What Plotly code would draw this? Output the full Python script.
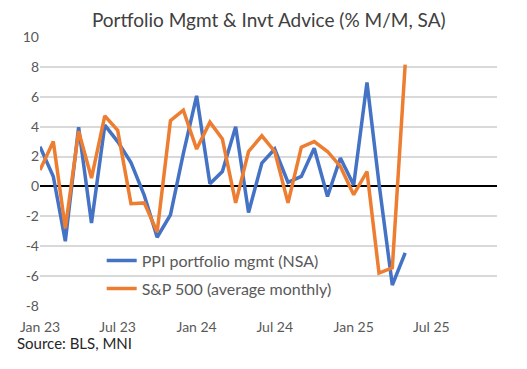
import pandas as pd
import plotly.graph_objects as go

months = pd.date_range("2023-01-01", periods=29, freq="MS")
ppi_mgmt = [2.65, 0.67, -3.67, 3.97, -2.45, 4.1, 3.0, 1.6, -0.6, -3.4, -1.9, 2.2, 6.06,
            0.18, 1.0, 4.0, -1.74, 1.56, 2.5, 0.27, 0.67, 2.56, -0.67, 1.9, 0.1, 6.95,
            0.2, -6.6, -4.45]
sp500 = [1.1, 3.0, -2.8, 3.7, 0.56, 4.72, 3.75, -1.15, -1.1, -3.05, 4.4, 5.1, 2.5,
         4.3, 3.17, -1.1, 2.34, 3.39, 2.34, -1.1, 2.63, 3.0, 2.34, 1.34, -0.55, 1.0,
         -5.8, -5.45, 8.15]
y_ticks = [-8, -6, -4, -2, 0, 2, 4, 6, 8, 10]
y_labels = ["-8", "-6", "-4", "-2", "0", "2", "4", "6", "8", "10"]
x_ticks = ["2023-01-01", "2023-07-01", "2024-01-01", "2024-07-01", "2025-01-01", "2025-07-01"]
x_labels = ["Jan 23", "Jul 23", "Jan 24", "Jul 24", "Jan 25", "Jul 25"]

FONT = "Lato"
GREY = "#595959"

fig = go.Figure()
fig.add_trace(go.Scatter(x=months, y=ppi_mgmt, mode="lines", name="PPI portfolio mgmt (NSA)",
                         line=dict(color="#4472C4", width=3.5), legend="legend"))
fig.add_trace(go.Scatter(x=months, y=sp500, mode="lines", name="S&P 500 (average monthly)",
                         line=dict(color="#ED7D31", width=3.5), legend="legend2"))

leg_common = dict(xanchor="left", yanchor="middle", bgcolor="rgba(0,0,0,0)",
                  font=dict(family=FONT, size=16, color=GREY))

fig.update_layout(
    width=527, height=369,
    margin=dict(l=40, r=30, t=37, b=63),
    paper_bgcolor="white", plot_bgcolor="white",
    font=dict(family=FONT, size=14, color=GREY),
    title=dict(text="Portfolio Mgmt &amp; Invt Advice (% M/M, SA)", x=0.51, xanchor="center",
               y=1 - 20 / 369, yanchor="middle", yref="container",
               font=dict(family=FONT, size=19, color="#404040")),
    showlegend=True,
    legend=dict(x=0.135, y=0.169, **leg_common),
    legend2=dict(x=0.135, y=0.065, **leg_common),
    xaxis=dict(range=["2023-01-01", "2025-12-01"], tickvals=x_ticks, ticktext=x_labels,
               showgrid=False, showline=False, zeroline=False,
               ticks="outside", ticklen=8, tickcolor="rgba(0,0,0,0)",
               tickfont=dict(family=FONT, size=14, color=GREY)),
    yaxis=dict(range=[-8, 10], tickvals=y_ticks, ticktext=y_labels,
               showgrid=True, gridcolor="#d9d9d9", gridwidth=1.5,
               zeroline=True, zerolinecolor="black", zerolinewidth=2,
               showline=False, ticks="",
               tickfont=dict(family=FONT, size=14, color=GREY)),
    annotations=[dict(text="Source: BLS, MNI", xref="paper", yref="paper",
                      x=-0.055, y=-0.138, xanchor="left", yanchor="middle", showarrow=False,
                      font=dict(family=FONT, size=15, color="#262626"))],
)

fig.write_html("out.html", config={"displayModeBar": False},
               post_script="document.body.style.margin='0';")
